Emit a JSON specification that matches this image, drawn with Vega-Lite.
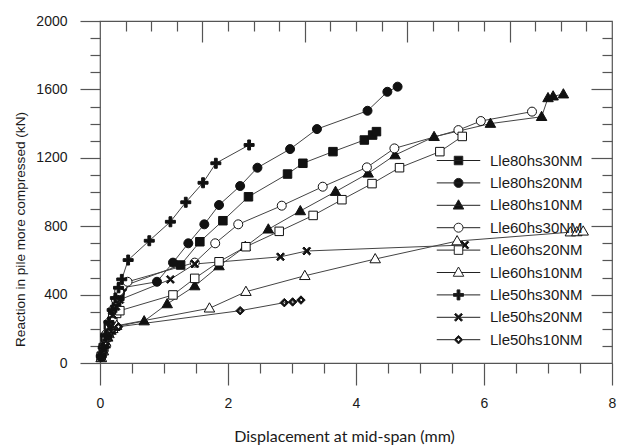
{
"$schema": "https://vega.github.io/schema/vega-lite/v6.json",
"width": 512, "height": 342,
"autosize": {"type": "none"},
"padding": {"left": 100, "top": 21, "right": 5, "bottom": 84},
"background": "white",
"data": {"values": [
{"s":"Lle80hs30NM","x":0.02,"y":40},{"s":"Lle80hs30NM","x":0.05,"y":90},{"s":"Lle80hs30NM","x":0.08,"y":150},{"s":"Lle80hs30NM","x":0.13,"y":220},{"s":"Lle80hs30NM","x":0.21,"y":300},{"s":"Lle80hs30NM","x":0.26,"y":350},{"s":"Lle80hs30NM","x":0.31,"y":390},{"s":"Lle80hs30NM","x":0.34,"y":446},{"s":"Lle80hs30NM","x":1.26,"y":573},{"s":"Lle80hs30NM","x":1.56,"y":709},{"s":"Lle80hs30NM","x":1.92,"y":832},{"s":"Lle80hs30NM","x":2.32,"y":972},{"s":"Lle80hs30NM","x":2.93,"y":1105},{"s":"Lle80hs30NM","x":3.17,"y":1168},{"s":"Lle80hs30NM","x":3.64,"y":1236},{"s":"Lle80hs30NM","x":4.13,"y":1304},{"s":"Lle80hs30NM","x":4.26,"y":1333},{"s":"Lle80hs30NM","x":4.32,"y":1353},
{"s":"Lle80hs20NM","x":0.02,"y":35},{"s":"Lle80hs20NM","x":0.06,"y":100},{"s":"Lle80hs20NM","x":0.1,"y":160},{"s":"Lle80hs20NM","x":0.15,"y":230},{"s":"Lle80hs20NM","x":0.2,"y":290},{"s":"Lle80hs20NM","x":0.26,"y":360},{"s":"Lle80hs20NM","x":0.31,"y":410},{"s":"Lle80hs20NM","x":0.35,"y":440},{"s":"Lle80hs20NM","x":0.89,"y":475},{"s":"Lle80hs20NM","x":1.14,"y":587},{"s":"Lle80hs20NM","x":1.38,"y":700},{"s":"Lle80hs20NM","x":1.63,"y":811},{"s":"Lle80hs20NM","x":1.86,"y":924},{"s":"Lle80hs20NM","x":2.19,"y":1035},{"s":"Lle80hs20NM","x":2.46,"y":1142},{"s":"Lle80hs20NM","x":2.97,"y":1251},{"s":"Lle80hs20NM","x":3.39,"y":1368},{"s":"Lle80hs20NM","x":4.18,"y":1475},{"s":"Lle80hs20NM","x":4.49,"y":1586},{"s":"Lle80hs20NM","x":4.65,"y":1616},
{"s":"Lle80hs10NM","x":0.02,"y":30},{"s":"Lle80hs10NM","x":0.05,"y":70},{"s":"Lle80hs10NM","x":0.08,"y":110},{"s":"Lle80hs10NM","x":0.12,"y":150},{"s":"Lle80hs10NM","x":0.17,"y":190},{"s":"Lle80hs10NM","x":0.23,"y":212},{"s":"Lle80hs10NM","x":0.69,"y":245},{"s":"Lle80hs10NM","x":1.05,"y":345},{"s":"Lle80hs10NM","x":1.48,"y":450},{"s":"Lle80hs10NM","x":1.86,"y":567},{"s":"Lle80hs10NM","x":2.27,"y":680},{"s":"Lle80hs10NM","x":2.63,"y":782},{"s":"Lle80hs10NM","x":3.13,"y":889},{"s":"Lle80hs10NM","x":3.68,"y":1002},{"s":"Lle80hs10NM","x":4.19,"y":1109},{"s":"Lle80hs10NM","x":4.61,"y":1216},{"s":"Lle80hs10NM","x":5.22,"y":1323},{"s":"Lle80hs10NM","x":6.1,"y":1400},{"s":"Lle80hs10NM","x":6.9,"y":1440},{"s":"Lle80hs10NM","x":7.0,"y":1550},{"s":"Lle80hs10NM","x":7.08,"y":1560},{"s":"Lle80hs10NM","x":7.24,"y":1572},
{"s":"Lle60hs30NM","x":0.02,"y":40},{"s":"Lle60hs30NM","x":0.06,"y":100},{"s":"Lle60hs30NM","x":0.1,"y":170},{"s":"Lle60hs30NM","x":0.15,"y":240},{"s":"Lle60hs30NM","x":0.2,"y":310},{"s":"Lle60hs30NM","x":0.25,"y":370},{"s":"Lle60hs30NM","x":0.3,"y":420},{"s":"Lle60hs30NM","x":0.36,"y":455},{"s":"Lle60hs30NM","x":0.43,"y":475},{"s":"Lle60hs30NM","x":1.48,"y":587},{"s":"Lle60hs30NM","x":1.8,"y":700},{"s":"Lle60hs30NM","x":2.16,"y":811},{"s":"Lle60hs30NM","x":2.84,"y":920},{"s":"Lle60hs30NM","x":3.48,"y":1031},{"s":"Lle60hs30NM","x":4.17,"y":1144},{"s":"Lle60hs30NM","x":4.6,"y":1255},{"s":"Lle60hs30NM","x":5.6,"y":1362},{"s":"Lle60hs30NM","x":5.95,"y":1415},{"s":"Lle60hs30NM","x":6.75,"y":1470},
{"s":"Lle60hs20NM","x":0.02,"y":35},{"s":"Lle60hs20NM","x":0.06,"y":90},{"s":"Lle60hs20NM","x":0.1,"y":150},{"s":"Lle60hs20NM","x":0.15,"y":210},{"s":"Lle60hs20NM","x":0.2,"y":260},{"s":"Lle60hs20NM","x":0.26,"y":290},{"s":"Lle60hs20NM","x":0.31,"y":306},{"s":"Lle60hs20NM","x":1.14,"y":398},{"s":"Lle60hs20NM","x":1.48,"y":495},{"s":"Lle60hs20NM","x":1.86,"y":592},{"s":"Lle60hs20NM","x":2.28,"y":680},{"s":"Lle60hs20NM","x":2.8,"y":770},{"s":"Lle60hs20NM","x":3.33,"y":863},{"s":"Lle60hs20NM","x":3.78,"y":955},{"s":"Lle60hs20NM","x":4.25,"y":1049},{"s":"Lle60hs20NM","x":4.68,"y":1142},{"s":"Lle60hs20NM","x":5.31,"y":1236},{"s":"Lle60hs20NM","x":5.66,"y":1325},
{"s":"Lle60hs10NM","x":0.02,"y":30},{"s":"Lle60hs10NM","x":0.05,"y":70},{"s":"Lle60hs10NM","x":0.09,"y":120},{"s":"Lle60hs10NM","x":0.14,"y":170},{"s":"Lle60hs10NM","x":0.2,"y":200},{"s":"Lle60hs10NM","x":0.26,"y":218},{"s":"Lle60hs10NM","x":1.71,"y":320},{"s":"Lle60hs10NM","x":2.28,"y":417},{"s":"Lle60hs10NM","x":3.2,"y":510},{"s":"Lle60hs10NM","x":4.3,"y":608},{"s":"Lle60hs10NM","x":5.58,"y":713},{"s":"Lle60hs10NM","x":7.35,"y":765},{"s":"Lle60hs10NM","x":7.45,"y":766},{"s":"Lle60hs10NM","x":7.55,"y":770},
{"s":"Lle50hs30NM","x":0.02,"y":40},{"s":"Lle50hs30NM","x":0.05,"y":90},{"s":"Lle50hs30NM","x":0.09,"y":160},{"s":"Lle50hs30NM","x":0.14,"y":240},{"s":"Lle50hs30NM","x":0.19,"y":310},{"s":"Lle50hs30NM","x":0.24,"y":380},{"s":"Lle50hs30NM","x":0.29,"y":440},{"s":"Lle50hs30NM","x":0.34,"y":489},{"s":"Lle50hs30NM","x":0.44,"y":602},{"s":"Lle50hs30NM","x":0.77,"y":715},{"s":"Lle50hs30NM","x":1.1,"y":826},{"s":"Lle50hs30NM","x":1.34,"y":940},{"s":"Lle50hs30NM","x":1.61,"y":1054},{"s":"Lle50hs30NM","x":1.81,"y":1168},{"s":"Lle50hs30NM","x":2.33,"y":1275},
{"s":"Lle50hs20NM","x":0.02,"y":35},{"s":"Lle50hs20NM","x":0.06,"y":90},{"s":"Lle50hs20NM","x":0.1,"y":150},{"s":"Lle50hs20NM","x":0.15,"y":210},{"s":"Lle50hs20NM","x":0.2,"y":280},{"s":"Lle50hs20NM","x":0.25,"y":330},{"s":"Lle50hs20NM","x":0.31,"y":370},{"s":"Lle50hs20NM","x":1.1,"y":489},{"s":"Lle50hs20NM","x":1.48,"y":579},{"s":"Lle50hs20NM","x":2.82,"y":621},{"s":"Lle50hs20NM","x":3.23,"y":655},{"s":"Lle50hs20NM","x":5.7,"y":690},
{"s":"Lle50hs10NM","x":0.02,"y":30},{"s":"Lle50hs10NM","x":0.05,"y":60},{"s":"Lle50hs10NM","x":0.09,"y":110},{"s":"Lle50hs10NM","x":0.14,"y":160},{"s":"Lle50hs10NM","x":0.2,"y":195},{"s":"Lle50hs10NM","x":0.29,"y":212},{"s":"Lle50hs10NM","x":2.19,"y":306},{"s":"Lle50hs10NM","x":2.88,"y":353},{"s":"Lle50hs10NM","x":3.01,"y":357},{"s":"Lle50hs10NM","x":3.14,"y":368}
]},
"layer": [
{
"mark": {"type": "line", "stroke": "#444", "strokeWidth": 1},
"encoding": {
"x": {"field": "x", "type": "quantitative", "scale": {"domain": [0, 8], "nice": false, "zero": false},
"axis": {"orient": "bottom", "values": [0, 2, 4, 6, 8], "ticks": true, "tickColor": "#555", "tickWidth": 1.2, "tickSize": 22, "labelPadding": 11, "labelFont": "Liberation Sans", "labelFontSize": 14, "labelColor": "#1a1a1a",
"title": "Displacement at mid-span (mm)", "titleFont": "Lato", "titleFontSize": 16, "titleFontWeight": "normal", "titleColor": "#1a1a1a", "titleX": 244, "titleY": 73, "titleBaseline": "middle"}},
"y": {"field": "y", "type": "quantitative", "scale": {"domain": [0, 2000], "nice": false},
"axis": {"orient": "left", "values": [0, 400, 800, 1200, 1600, 2000], "format": "d", "ticks": true, "tickColor": "#555", "tickWidth": 1.2, "tickSize": 20, "labelPadding": 13, "labelFont": "Liberation Sans", "labelFontSize": 14, "labelColor": "#1a1a1a",
"title": "Reaction in pile more compressed (kN)", "titleFont": "Liberation Sans", "titleFontSize": 13.6, "titleFontWeight": "normal", "titleColor": "#1a1a1a", "titleX": -80, "titleY": 208, "titleBaseline": "middle"}},
"detail": {"field": "s"}
}
},
{
"mark": {"type": "point", "filled": true, "stroke": "#111", "strokeWidth": 1, "size": 100, "opacity": 1},
"encoding": {
"x": {"field": "x", "type": "quantitative", "axis": {"orient": "bottom", "values": [0.5,1,1.5,2.5,3,3.5,4.5,5,5.5,6.5,7,7.5], "ticks": true, "tickColor": "#555", "tickWidth": 1.2, "tickSize": 10, "labels": false, "title": null}},
"y": {"field": "y", "type": "quantitative", "axis": {"orient": "left", "values": [100,200,300,500,600,700,900,1000,1100,1300,1400,1500,1700,1800,1900], "ticks": true, "tickColor": "#555", "tickWidth": 1.2, "tickSize": 10, "labels": false, "title": null}},
"shape": {"field": "s", "type": "nominal", "legend": null, "scale": {
"domain": ["Lle80hs30NM","Lle80hs20NM","Lle80hs10NM","Lle60hs30NM","Lle60hs20NM","Lle60hs10NM","Lle50hs30NM","Lle50hs20NM","Lle50hs10NM"],
"range": [
"M-0.85,-0.85H0.85V0.85H-0.85Z",
"M-0.9,0A0.9,0.9,0,1,0,0.9,0A0.9,0.9,0,1,0,-0.9,0Z",
"M0,-1.1L1.05,0.75H-1.05Z",
"M-0.9,0A0.9,0.9,0,1,0,0.9,0A0.9,0.9,0,1,0,-0.9,0Z",
"M-0.85,-0.85H0.85V0.85H-0.85Z",
"M0,-1.1L1.05,0.75H-1.05Z",
"M-1,-0.28H-0.28V-1H0.28V-0.28H1V0.28H0.28V1H-0.28V0.28H-1Z",
"M-0.8,-0.55L-0.55,-0.8L0,-0.25L0.55,-0.8L0.8,-0.55L0.25,0L0.8,0.55L0.55,0.8L0,0.25L-0.55,0.8L-0.8,0.55L-0.25,0Z",
"M0,-0.85L0.85,0L0,0.85L-0.85,0ZM0,-0.4L-0.4,0L0,0.4L0.4,0Z"
]}},
"fill": {"field": "s", "type": "nominal", "legend": null, "scale": {
"domain": ["Lle80hs30NM","Lle80hs20NM","Lle80hs10NM","Lle60hs30NM","Lle60hs20NM","Lle60hs10NM","Lle50hs30NM","Lle50hs20NM","Lle50hs10NM"],
"range": ["#111","#111","#111","#fff","#fff","#fff","#111","#111","#111"]}}
}
},
{
"transform": [{"filter": "false"}],
"mark": {"type": "point", "filled": true, "stroke": "#111", "strokeWidth": 1, "size": 100},
"encoding": {
"x": {"field": "x", "type": "quantitative", "axis": {"orient": "top", "values": [0.4,0.8,1.2,2,2.4,2.8,3.6,4,4.4,5.2,5.6,6,6.8,7.2,7.6], "ticks": true, "tickColor": "#555", "tickWidth": 1.2, "tickSize": -10, "labels": false, "title": null}},
"y": {"field": "y", "type": "quantitative", "axis": {"orient": "right", "values": [100,200,300,500,600,700,900,1000,1100,1300,1400,1500,1700,1800,1900], "ticks": true, "tickColor": "#555", "tickWidth": 1.2, "tickSize": -10, "labels": false, "title": null}},
"shape": {"field": "s", "type": "nominal", "scale": {
"domain": ["Lle80hs30NM","Lle80hs20NM","Lle80hs10NM","Lle60hs30NM","Lle60hs20NM","Lle60hs10NM","Lle50hs30NM","Lle50hs20NM","Lle50hs10NM"],
"range": [
"M-4.35,0H4.35M-0.85,-0.85H0.85V0.85H-0.85Z",
"M-4.35,0H4.35M-0.9,0A0.9,0.9,0,1,0,0.9,0A0.9,0.9,0,1,0,-0.9,0Z",
"M-4.35,0H4.35M0,-1.1L1.05,0.75H-1.05Z",
"M-4.35,0H-0.9M0.9,0H4.35M-0.9,0A0.9,0.9,0,1,0,0.9,0A0.9,0.9,0,1,0,-0.9,0Z",
"M-4.35,0H-0.85M0.85,0H4.35M-0.85,-0.85H0.85V0.85H-0.85Z",
"M-4.35,0H-0.62M0.62,0H4.35M0,-1.1L1.05,0.75H-1.05Z",
"M-4.35,0H4.35M-1,-0.28H-0.28V-1H0.28V-0.28H1V0.28H0.28V1H-0.28V0.28H-1Z",
"M-4.35,0H4.35M-0.8,-0.55L-0.55,-0.8L0,-0.25L0.55,-0.8L0.8,-0.55L0.25,0L0.8,0.55L0.55,0.8L0,0.25L-0.55,0.8L-0.8,0.55L-0.25,0Z",
"M-4.35,0H-0.85M0.85,0H4.35M0,-0.85L0.85,0L0,0.85L-0.85,0ZM0,-0.4L-0.4,0L0,0.4L0.4,0Z"
]},
"legend": {"orient": "none", "legendX": 351, "legendY": 132, "title": null, "padding": 0, "labelFont": "Liberation Sans", "labelFontSize": 15, "labelColor": "#1a1a1a", "symbolSize": 100, "symbolStrokeWidth": 1, "symbolStrokeColor": "#111", "symbolOpacity": 1, "labelOffset": 24, "rowPadding": 6.4}},
"fill": {"field": "s", "type": "nominal", "scale": {
"domain": ["Lle80hs30NM","Lle80hs20NM","Lle80hs10NM","Lle60hs30NM","Lle60hs20NM","Lle60hs10NM","Lle50hs30NM","Lle50hs20NM","Lle50hs10NM"],
"range": ["#111","#111","#111","#fff","#fff","#fff","#111","#111","#111"]},
"legend": {"orient": "none", "legendX": 351, "legendY": 132, "title": null, "padding": 0, "labelFont": "Liberation Sans", "labelFontSize": 15, "labelColor": "#1a1a1a", "symbolSize": 100, "symbolStrokeWidth": 1, "symbolStrokeColor": "#111", "symbolOpacity": 1, "labelOffset": 24, "rowPadding": 6.4}},
"stroke": {"field": "s", "type": "nominal", "scale": {
"domain": ["Lle80hs30NM","Lle80hs20NM","Lle80hs10NM","Lle60hs30NM","Lle60hs20NM","Lle60hs10NM","Lle50hs30NM","Lle50hs20NM","Lle50hs10NM"],
"range": ["#222","#222","#222","#222","#222","#222","#222","#222","#222"]},
"legend": {"orient": "none", "legendX": 351, "legendY": 132, "title": null, "padding": 0, "labelFont": "Liberation Sans", "labelFontSize": 15, "labelColor": "#1a1a1a", "symbolSize": 100, "symbolStrokeWidth": 1, "symbolOpacity": 1, "labelOffset": 24, "rowPadding": 6.4}}
}
},
{
"transform": [{"filter": "false"}],
"mark": {"type": "point", "size": 100},
"encoding": {
"x": {"field": "x", "type": "quantitative", "axis": {"orient": "top", "values": [1.6, 3.2, 4.8, 6.4], "ticks": true, "tickColor": "#555", "tickWidth": 1.2, "tickSize": -21, "labels": false, "title": null}},
"y": {"field": "y", "type": "quantitative", "axis": {"orient": "right", "values": [400, 800, 1200, 1600], "ticks": true, "tickColor": "#555", "tickWidth": 1.2, "tickSize": -21, "labels": false, "title": null}}
}
}
],
"resolve": {"scale": {"shape": "independent", "fill": "independent", "stroke": "independent"}, "axis": {"x": "independent", "y": "independent"}},
"config": {
"view": {"stroke": "#555", "strokeWidth": 1.2},
"axis": {"grid": false, "domain": false, "labelFlush": false, "labelOverlap": false}
}
}
